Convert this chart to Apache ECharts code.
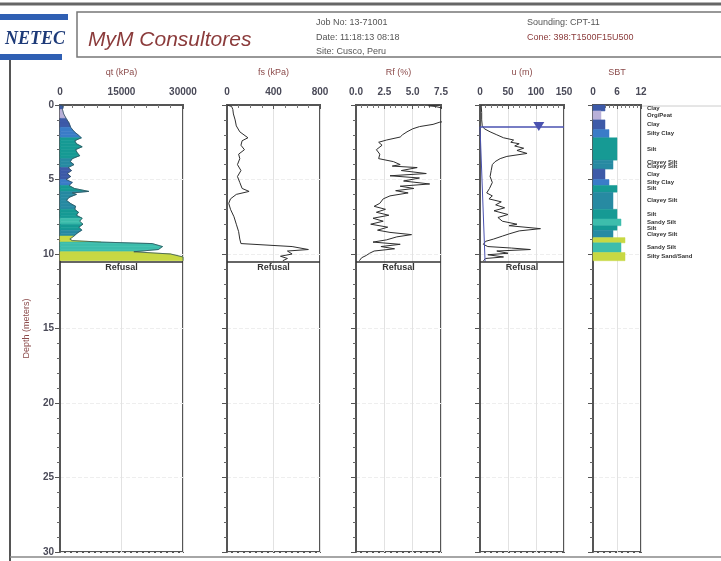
<!DOCTYPE html>
<html>
<head>
<meta charset="utf-8">
<title>CPT-11</title>
<script src="https://cdn.jsdelivr.net/npm/echarts@6/dist/echarts.min.js"></script>
<style>
html, body { margin: 0; padding: 0; background: #fff; }
#chart { width: 721px; height: 561px; }
</style>
</head>
<body>
<div id="chart"></div>
<script>
const qtDepth = [0, 0.1, 0.3, 0.6, 0.9, 1.2, 1.5, 1.8, 2.0, 2.2, 2.4, 2.6, 2.8, 3.0, 3.2, 3.4, 3.6, 3.8, 4.0, 4.2, 4.4, 4.6, 4.8, 5.0, 5.2, 5.4, 5.6, 5.8, 5.9, 6.0, 6.2, 6.4, 6.6, 6.8, 7.0, 7.2, 7.4, 7.6, 7.8, 8.0, 8.2, 8.4, 8.6, 8.8, 9.0, 9.1, 9.2, 9.3, 9.5, 9.7, 9.85, 10.0, 10.2, 10.45]
const qtValue = [0, 800, 600, 900, 1500, 2200, 2600, 3500, 4400, 5200, 3600, 4000, 5400, 3800, 4200, 4800, 3000, 2500, 3400, 2000, 2800, 1800, 2600, 1500, 3000, 2200, 3500, 7000, 3000, 4000, 2200, 1600, 2500, 3800, 3600, 4500, 4000, 5400, 4800, 5600, 4600, 5300, 4200, 3400, 2400, 3000, 10000, 22500, 25000, 24000, 18000, 27000, 30000, 30000]

const fsDepth = [0, 0.1, 0.3, 0.6, 1.0, 1.4, 1.8, 2.2, 2.4, 2.7, 3.0, 3.3, 3.6, 4.0, 4.4, 4.8, 5.2, 5.6, 5.8, 6.0, 6.3, 6.6, 7.0, 7.5, 8.0, 8.5, 9.0, 9.3, 9.5, 9.7, 9.8, 10.0, 10.15, 10.3, 10.45]
const fsValue = [0, 40, 50, 55, 70, 80, 110, 180, 130, 120, 150, 100, 110, 90, 120, 90, 110, 130, 190, 80, 30, 15, 30, 60, 80, 100, 110, 120, 560, 700, 520, 560, 460, 520, 480]

const rfDepth = [0, 0.05, 0.1, 0.2, 0.3, 1.0, 1.15, 1.3, 1.45, 1.6, 1.8, 2.0, 2.15, 2.35, 2.5, 2.7, 3.0, 3.3, 3.6, 3.8, 4.0, 4.1, 4.2, 4.4, 4.6, 4.75, 4.9, 5.1, 5.3, 5.45, 5.6, 5.75, 5.9, 6.1, 6.3, 6.6, 6.8, 7.0, 7.2, 7.4, 7.6, 7.8, 8.0, 8.2, 8.4, 8.55, 8.7, 8.85, 9.05, 9.2, 9.35, 9.5, 9.65, 9.8, 9.95, 10.1, 10.25, 10.45]
const rfValue = [7.4, 6.4, 7.0, 7.6, 9, 9, 7.4, 6.8, 5.6, 5.0, 4.5, 4.1, 3.9, 2.7, 2.0, 2.3, 1.8, 2.1, 2.0, 3.3, 3.9, 3.2, 5.4, 4.0, 6.2, 3.0, 5.6, 4.2, 6.5, 3.9, 5.1, 3.5, 4.6, 3.0, 2.4, 2.1, 1.6, 2.6, 1.8, 2.9, 1.5, 2.4, 1.3, 2.8, 1.9, 3.0, 4.9, 3.6, 2.7, 1.5, 3.9, 2.2, 3.4, 1.6, 1.2, 0.9, 0.5, 0.3]

const uDepth = [0, 0.5, 1.0, 1.4, 1.6, 1.8, 2.0, 2.2, 2.35, 2.5, 2.6, 2.75, 2.9, 3.05, 3.25, 3.45, 3.6, 3.8, 4.0, 4.4, 4.8, 5.2, 5.6, 5.9, 6.1, 6.3, 6.5, 6.7, 6.9, 7.1, 7.35, 7.55, 7.8, 8.0, 8.1, 8.3, 8.45, 8.65, 8.8, 9.0, 9.15, 9.35, 9.5, 9.6, 9.7, 9.8, 9.95, 10.05, 10.2, 10.3, 10.45]
const uValue = [2, 3, 3, 4, 8, 18, 30, 42, 60, 55, 70, 62, 78, 66, 84, 48, 36, 27, 22, 20, 18, 22, 17, 12, 22, 16, 38, 28, 44, 25, 50, 32, 40, 66, 52, 108, 70, 52, 40, 24, 10, 6, 14, 56, 90, 30, 50, 14, 42, 10, 6]

// soil behaviour type layers
const sbtTop = [0, 0.4, 1.0, 1.65, 2.2, 3.7, 3.95, 4.3, 5.0, 5.4, 5.85, 7.0, 7.65, 8.1, 8.4, 8.9, 9.25, 9.9]
const sbtBottom = [0.4, 1.0, 1.65, 2.2, 3.7, 3.95, 4.3, 5.0, 5.4, 5.85, 7.0, 7.65, 8.1, 8.4, 8.9, 9.25, 9.9, 10.45]
const sbtZone = [3, 2, 3, 4, 6, 5, 5, 3, 4, 6, 5, 6, 7, 6, 5, 8, 7, 8]
const sbtName = ['Clay', 'Org/Peat', 'Clay', 'Silty Clay', 'Silt', 'Clayey Silt', 'Clayey Silt', 'Clay', 'Silty Clay', 'Silt', 'Clayey Silt', 'Silt', 'Sandy Silt', 'Silt', 'Clayey Silt', '', 'Sandy Silt', 'Silty Sand/Sand']

const gwtDepth = 1.45
const gwtMarkU = 105
const refusalDepth = 10.5

const zoneColors = { 2: '#b9b0d8', 3: '#3d5aa8', 4: '#3a7cc8', 5: '#278aa2', 6: '#169a94', 7: '#3dbdac', 8: '#c8d843' }
const zoneAt = (d) => {
  for (let i = 0; i < sbtTop.length; i++) {
    if (d >= sbtTop[i] && d < sbtBottom[i]) return sbtZone[i]
  }
  return 8
}

const font = 'Liberation Sans'
const axisColor = '#555'
const titleColor = '#8b4a4a'

// panel placement
const panels = [
  { left: 60, width: 123, min: 0, max: 30000, interval: 15000, minor: 5, name: 'qt (kPa)' },
  { left: 227, width: 93, min: 0, max: 800, interval: 400, minor: 4, name: 'fs (kPa)' },
  { left: 356, width: 85, min: 0, max: 7.5, interval: 2.5, minor: 5, name: 'Rf (%)', fixed: 1 },
  { left: 480, width: 84, min: 0, max: 150, interval: 50, minor: 5, name: 'u (m)' },
  { left: 593, width: 48, min: 0, max: 12, interval: 6, minor: 6, name: 'SBT' }
]

const grids = panels.map(p => ({
  left: p.left, width: p.width, top: 105, height: 447,
  show: true, borderColor: axisColor, borderWidth: 2,
  outerBoundsMode: 'none'
}))

const xAxes = panels.map((p, i) => ({
  gridIndex: i, type: 'value', position: 'top',
  min: p.min, max: p.max, interval: p.interval,
  name: p.name, nameLocation: 'middle', nameGap: 28,
  nameTextStyle: { color: titleColor, fontSize: 9, fontFamily: font },
  axisLine: { show: true, lineStyle: { color: axisColor, width: 2 } },
  axisTick: { show: true, inside: true, length: 4, lineStyle: { color: axisColor } },
  minorTick: { show: true, splitNumber: p.minor, length: 3, lineStyle: { color: '#777' } },
  axisLabel: {
    margin: 8, color: '#4a4a58', fontSize: 10, fontWeight: 'bold', fontFamily: font,
    formatter: v => p.fixed ? v.toFixed(p.fixed) : String(v)
  },
  splitLine: { show: true, lineStyle: { color: '#e2e2e2', width: 1 } }
}))

const yAxes = panels.map((p, i) => ({
  gridIndex: i, type: 'value', inverse: true, min: 0, max: 30, interval: 5,
  name: i === 0 ? 'Depth (meters)' : '', nameLocation: 'middle', nameGap: 29,
  nameTextStyle: { color: titleColor, fontSize: 9, fontFamily: font },
  axisLine: { show: true, lineStyle: { color: axisColor, width: 2 } },
  axisTick: { show: true, length: 5, lineStyle: { color: axisColor } },
  minorTick: { show: true, splitNumber: 5, length: 3, lineStyle: { color: '#666' } },
  axisLabel: { show: i === 0, margin: 6, color: '#4a4a58', fontSize: 10, fontWeight: 'bold', fontFamily: font },
  splitLine: { show: true, lineStyle: { color: '#eeeeee', type: 'dashed' } }
}))

const refusalLine = {
  silent: true, symbol: 'none', animation: false,
  lineStyle: { color: '#333', width: 1.5, type: 'solid' },
  label: { show: true, position: 'insideMiddleBottom', formatter: 'Refusal', color: '#333', fontSize: 9, fontWeight: 'bold', fontFamily: font, distance: 2 },
  data: [{ yAxis: refusalDepth }]
}

const traceLine = (idx, depth, vals) => ({
  type: 'line', xAxisIndex: idx, yAxisIndex: idx,
  data: depth.map((d, i) => [vals[i], d]),
  showSymbol: false, symbol: 'none',
  lineStyle: { color: '#2e2e2e', width: 1 },
  markLine: refusalLine
})

const qtSegments = qtDepth.slice(0, -1).map((d, i) => [qtValue[i], d, qtValue[i + 1], qtDepth[i + 1]])
const sbtData = sbtTop.map((t, i) => [t, sbtBottom[i], sbtZone[i], i])

const option = {
  animation: false,
  backgroundColor: '#fff',
  grid: grids,
  xAxis: xAxes,
  yAxis: yAxes,
  series: [
    {
      type: 'custom', xAxisIndex: 0, yAxisIndex: 0,
      data: qtSegments,
      encode: { x: [0, 2], y: [1, 3] },
      renderItem: (params, api) => {
        const q0 = api.value(0), d0 = api.value(1), q1 = api.value(2), d1 = api.value(3)
        const c = zoneColors[zoneAt((d0 + d1) / 2)]
        return {
          type: 'polygon',
          shape: { points: [api.coord([0, d0]), api.coord([q0, d0]), api.coord([q1, d1]), api.coord([0, d1])] },
          style: { fill: c, stroke: c, lineWidth: 0.6 }
        }
      }
    },
    Object.assign(traceLine(0, qtDepth, qtValue), { lineStyle: { color: '#30505a', width: 0.8 } }),
    traceLine(1, fsDepth, fsValue),
    traceLine(2, rfDepth, rfValue),
    Object.assign(traceLine(3, uDepth, uValue), {
      markLine: {
        silent: true, symbol: 'none', animation: false,
        data: [
          { yAxis: gwtDepth, lineStyle: { color: '#4a52b0', width: 1.5, type: 'solid' }, label: { show: false } },
          { yAxis: refusalDepth, lineStyle: { color: '#333', width: 1.5, type: 'solid' },
            label: { show: true, position: 'insideMiddleBottom', formatter: 'Refusal', color: '#333', fontSize: 9, fontWeight: 'bold', fontFamily: font, distance: 2 } }
        ]
      },
      markPoint: {
        silent: true, symbol: 'triangle', symbolRotate: 180, symbolSize: [11, 9],
        itemStyle: { color: '#4a52b0' }, label: { show: false },
        data: [{ coord: [gwtMarkU, gwtDepth] }]
      }
    }),
    {
      // hydrostatic line below the water table
      type: 'line', xAxisIndex: 3, yAxisIndex: 3, showSymbol: false, symbol: 'none',
      data: [[0, gwtDepth], [refusalDepth - gwtDepth, refusalDepth]],
      lineStyle: { color: '#4a52b0', width: 1 }
    },
    {
      type: 'custom', xAxisIndex: 4, yAxisIndex: 4,
      data: sbtData,
      encode: { y: [0, 1], x: 2 },
      renderItem: (params, api) => {
        const top = api.value(0), bot = api.value(1), z = api.value(2)
        const p0 = api.coord([0, top]), p1 = api.coord([z, bot])
        const edge = api.coord([12, (top + bot) / 2])
        const c = zoneColors[z]
        return {
          type: 'group',
          children: [
            { type: 'rect', shape: { x: p0[0], y: p0[1], width: p1[0] - p0[0], height: p1[1] - p0[1] }, style: { fill: c, stroke: c, lineWidth: 0.5 } },
            { type: 'text', x: edge[0] + 6, y: edge[1], style: { text: sbtName[api.value(3)], fontSize: 6, fontWeight: 'bold', fontFamily: font, fill: '#333', verticalAlign: 'middle' } }
          ]
        }
      }
    }
  ],
  graphic: [
    { type: 'line', silent: true, shape: { x1: 0, y1: 4, x2: 721, y2: 4 }, style: { stroke: '#666', lineWidth: 3 } },
    { type: 'line', silent: true, shape: { x1: 10, y1: 60, x2: 10, y2: 561 }, style: { stroke: '#555', lineWidth: 2 } },
    { type: 'line', silent: true, shape: { x1: 10, y1: 557, x2: 721, y2: 557 }, style: { stroke: '#888', lineWidth: 1.5 } },
    { type: 'line', silent: true, shape: { x1: 641, y1: 106, x2: 721, y2: 106 }, style: { stroke: '#ccc', lineWidth: 1 } },
    { type: 'rect', silent: true, shape: { x: 0, y: 14, width: 68, height: 6 }, style: { fill: '#2f5fb3' } },
    { type: 'rect', silent: true, shape: { x: 0, y: 54, width: 62, height: 6 }, style: { fill: '#2f5fb3' } },
    { type: 'text', silent: true, x: 5, y: 39, style: { text: 'NETEC', font: 'italic bold 18px "Liberation Serif"', fill: '#1d3a78', verticalAlign: 'middle' } },
    { type: 'rect', silent: true, shape: { x: 77, y: 12, width: 650, height: 45 }, style: { fill: '#fff', stroke: '#777', lineWidth: 1.5 } },
    { type: 'text', silent: true, x: 88, y: 40, style: { text: 'MyM Consultores', font: 'italic 21px "Liberation Sans"', fill: '#8b3b3b', verticalAlign: 'middle' } },
    { type: 'text', silent: true, x: 316, y: 23, style: { text: 'Job No: 13-71001', font: '9px "Liberation Sans"', fill: '#555', verticalAlign: 'middle' } },
    { type: 'text', silent: true, x: 316, y: 38, style: { text: 'Date: 11:18:13 08:18', font: '9px "Liberation Sans"', fill: '#555', verticalAlign: 'middle' } },
    { type: 'text', silent: true, x: 316, y: 52, style: { text: 'Site: Cusco, Peru', font: '9px "Liberation Sans"', fill: '#555', verticalAlign: 'middle' } },
    { type: 'text', silent: true, x: 527, y: 23, style: { text: 'Sounding: CPT-11', font: '9px "Liberation Sans"', fill: '#555', verticalAlign: 'middle' } },
    { type: 'text', silent: true, x: 527, y: 38, style: { text: 'Cone: 398:T1500F15U500', font: '9px "Liberation Sans"', fill: '#8b3b3b', verticalAlign: 'middle' } }
  ]
}

const chart = echarts.init(document.getElementById('chart'), null, { renderer: 'canvas' })
chart.setOption(option)
window.addEventListener('resize', () => chart.resize())
</script>
</body>
</html>
